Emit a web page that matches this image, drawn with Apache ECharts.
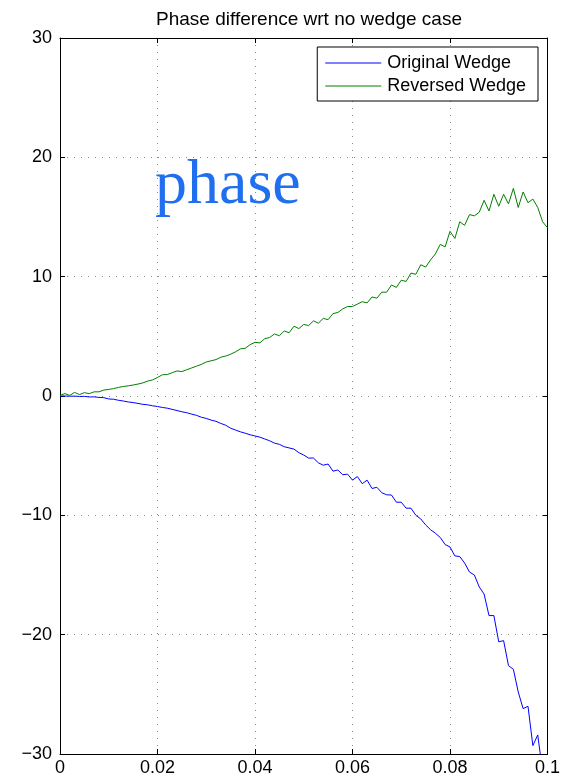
<!DOCTYPE html>
<html>
<head>
<meta charset="utf-8">
<script src="https://cdn.jsdelivr.net/npm/echarts@6/dist/echarts.min.js"></script>
<style>
  html, body { margin: 0; padding: 0; background: #fff; }
  #chart { width: 563px; height: 782px; }
</style>
</head>
<body>
<div id="chart"></div>
<script>
// sampling grid: x = 0 .. 0.1, step 0.001
var xStep = 0.001;

var originalWedge = [
  0, 0, -0.02, -0.01, -0.04, -0.03, -0.08, -0.07, -0.12, -0.14,
  -0.25, -0.27, -0.36, -0.42, -0.5, -0.55, -0.62, -0.7, -0.74, -0.82,
  -0.88, -0.96, -1.02, -1.12, -1.22, -1.32, -1.4, -1.52, -1.62, -1.78,
  -1.88, -2.02, -2.12, -2.3, -2.45, -2.7, -2.85, -3.0, -3.12, -3.25,
  -3.35, -3.45, -3.6, -3.75, -3.95, -4.05, -4.25, -4.35, -4.45, -4.75,
  -4.95, -5.2, -5.2, -5.6, -5.8, -5.7, -6.3, -6.2, -6.6, -6.55,
  -7.05, -6.75, -7.35, -7.05, -7.75, -7.65, -8.1, -8.28, -8.3, -8.9,
  -8.9, -9.4, -9.4, -10.0, -10.3, -10.8, -11.2, -11.5, -11.85, -12.45,
  -12.65, -13.4, -13.45, -14.0, -14.75, -15.0, -16.0, -16.6, -18.4, -18.4,
  -20.6, -20.5, -22.6, -22.9, -24.8, -26.2, -26.0, -29.3, -28.4, -31.5,
  -33
];

var reversedWedge = [
  0.05, 0.2, 0.05, 0.3, 0.12, 0.28, 0.2, 0.35, 0.35, 0.5,
  0.55, 0.62, 0.72, 0.8, 0.85, 0.92, 1.0, 1.1, 1.25, 1.35,
  1.55, 1.78, 1.8, 1.95, 2.1, 2.05, 2.2, 2.35, 2.5, 2.65,
  2.85, 2.95, 3.05, 3.25, 3.35, 3.5, 3.7, 3.95, 4.0, 4.3,
  4.5, 4.45, 4.8, 4.9, 5.2, 5.05, 5.45, 5.3, 5.85, 5.65,
  6.0, 5.9, 6.3, 6.1, 6.5, 6.4, 6.9, 7.0, 7.3, 7.5,
  7.5, 7.7, 7.9, 7.8, 8.3, 8.2, 8.7, 8.7, 9.3, 9.1,
  9.7, 9.6, 10.3, 10.2, 11.0, 10.8, 11.4, 11.9, 12.7, 12.5,
  13.8, 13.2, 14.6, 14.3, 15.2, 15.1, 15.4, 16.4, 15.5, 16.9,
  15.9, 16.9, 16.1, 17.4, 15.8, 17.1, 16.2, 16.5, 15.8, 14.6,
  14.1
];

var seriesNames = ['Original Wedge', 'Reversed Wedge'];

function toPairs(values) {
  return values.map(function (v, i) {
    return [Math.round(i * xStep * 1000) / 1000, v];
  });
}

var font = 'Liberation Sans, Arial, Helvetica, sans-serif';

var gridLine = {show: true, lineStyle: {color: '#8a8a8a', type: [1, 6], width: 1}};
var boxLine = {show: true, onZero: false, lineStyle: {color: '#000', width: 1}};
var tickIn = {show: true, inside: true, length: 5, lineStyle: {color: '#000'}};

var chart = echarts.init(document.getElementById('chart'));

chart.setOption({
  backgroundColor: '#fff',
  animation: false,
  title: {
    text: 'Phase difference wrt no wedge case',
    left: 304,
    textAlign: 'center',
    top: 5,
    textStyle: {fontFamily: font, fontSize: 19, fontWeight: 'normal', color: '#000'}
  },
  legend: {
    orient: 'vertical',
    right: 25,
    top: 47,
    data: seriesNames,
    icon: 'rect',
    itemWidth: 56,
    itemHeight: 1,
    itemGap: 5,
    padding: [7, 12, 6, 8],
    backgroundColor: '#fff',
    borderColor: '#000',
    borderWidth: 1,
    textStyle: {fontFamily: font, fontSize: 18, color: '#000', padding: [0, 0, 0, 1]}
  },
  grid: {left: 60, right: 15, top: 38, bottom: 28, containLabel: false},
  xAxis: [{
    type: 'value',
    min: 0,
    max: 0.1,
    interval: 0.02,
    axisLine: boxLine,
    axisTick: tickIn,
    splitLine: gridLine,
    axisLabel: {fontFamily: font, fontSize: 18, color: '#000', margin: 5}
  }, {
    type: 'value',
    position: 'top',
    min: 0,
    max: 0.1,
    interval: 0.02,
    axisLine: boxLine,
    axisTick: tickIn,
    splitLine: {show: false},
    axisLabel: {show: false}
  }],
  yAxis: [{
    type: 'value',
    min: -30,
    max: 30,
    interval: 10,
    axisLine: boxLine,
    axisTick: tickIn,
    splitLine: gridLine,
    axisLabel: {
      fontFamily: font, fontSize: 18, color: '#000', margin: 8,
      formatter: function (v) { return String(v).replace('-', '\u2212'); }
    }
  }, {
    type: 'value',
    position: 'right',
    min: -30,
    max: 30,
    interval: 10,
    axisLine: boxLine,
    axisTick: tickIn,
    splitLine: {show: false},
    axisLabel: {show: false}
  }],
  graphic: [{
    type: 'text',
    left: 155,
    top: 154,
    style: {
      text: 'phase',
      font: '64px "Liberation Serif", "Times New Roman", serif',
      fill: '#1f6fef'
    }
  }],
  series: [{
    name: seriesNames[0],
    type: 'line',
    data: toPairs(originalWedge),
    showSymbol: false,
    clip: true,
    lineStyle: {color: '#0000ff', width: 1},
    itemStyle: {color: '#0000ff'}
  }, {
    name: seriesNames[1],
    type: 'line',
    data: toPairs(reversedWedge),
    showSymbol: false,
    clip: true,
    lineStyle: {color: '#008000', width: 1},
    itemStyle: {color: '#008000'}
  }]
});
</script>
</body>
</html>
